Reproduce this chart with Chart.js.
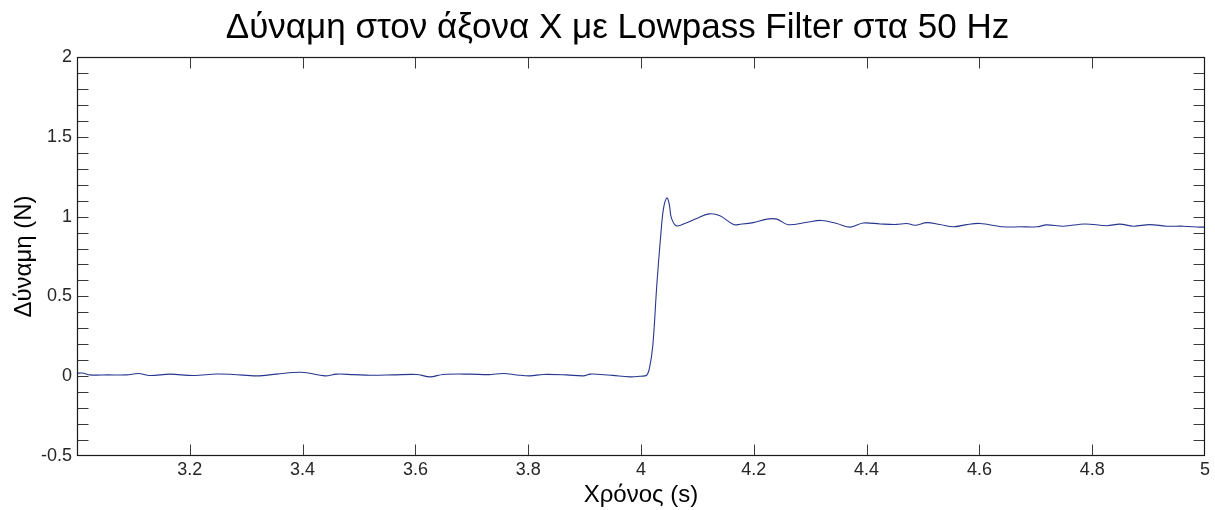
<!DOCTYPE html>
<html>
<head>
<meta charset="utf-8">
<script src="https://cdn.jsdelivr.net/npm/chart.js@4.4.0/dist/chart.umd.min.js"></script>
<style>
  html, body { margin: 0; padding: 0; background: #ffffff; }
  canvas { display: block; }
</style>
</head>
<body>
<canvas id="c" width="1215" height="510"></canvas>
<script>
// ---- data ----
const timeSeconds = [
  3.000, 3.010, 3.023, 3.055, 3.088, 3.109, 3.129, 3.165, 3.206, 3.248,
  3.277, 3.319, 3.354, 3.398, 3.440, 3.460, 3.490, 3.520, 3.560, 3.602,
  3.626, 3.649, 3.697, 3.730, 3.756, 3.780, 3.803, 3.827, 3.868, 3.898,
  3.910, 3.927, 3.950, 3.980, 4.000, 4.010, 4.015, 4.021, 4.028, 4.035,
  4.040, 4.046, 4.050, 4.054, 4.063, 4.081, 4.100, 4.121, 4.140, 4.164,
  4.176, 4.199, 4.223, 4.241, 4.261, 4.294, 4.320, 4.347, 4.371, 4.394,
  4.424, 4.453, 4.471, 4.486, 4.507, 4.530, 4.554, 4.577, 4.601, 4.642,
  4.672, 4.702, 4.719, 4.749, 4.787, 4.826, 4.849, 4.873, 4.902, 4.932,
  4.962, 4.991, 5.000
];
const forceNewton = [
  0.018, 0.020, 0.008, 0.008, 0.008, 0.017, 0.004, 0.013, 0.004, 0.014,
  0.011, 0.002, 0.013, 0.025, 0.002, 0.013, 0.010, 0.006, 0.008, 0.011,
  -0.004, 0.011, 0.013, 0.010, 0.017, 0.008, 0.002, 0.011, 0.008, 0.002,
  0.013, 0.011, 0.005, -0.004, 0.000, 0.006, 0.050, 0.194, 0.570, 0.883,
  1.053, 1.117, 1.080, 0.990, 0.942, 0.962, 0.990, 1.017, 1.005, 0.950,
  0.952, 0.962, 0.984, 0.984, 0.949, 0.965, 0.976, 0.957, 0.934, 0.960,
  0.954, 0.951, 0.957, 0.946, 0.962, 0.950, 0.936, 0.950, 0.957, 0.936,
  0.936, 0.936, 0.948, 0.940, 0.954, 0.943, 0.953, 0.940, 0.950, 0.940,
  0.940, 0.934, 0.934
];
const xTickValues = [3.2, 3.4, 3.6, 3.8, 4, 4.2, 4.4, 4.6, 4.8, 5];
const xTickLabels = ['3.2', '3.4', '3.6', '3.8', '4', '4.2', '4.4', '4.6', '4.8', '5'];
const yTickValues = [-0.5, 0, 0.5, 1, 1.5, 2];
const yTickLabels = ['-0.5', '0', '0.5', '1', '1.5', '2'];

const titleText = 'Δύναμη στον άξονα X με Lowpass Filter στα 50 Hz';
const xAxisTitle = 'Χρόνος (s)';
const yAxisTitle = 'Δύναμη (N)';

// ---- chart ----
const FONT = "'Liberation Sans', Arial, Helvetica, sans-serif";
const AXIS_COLOR = '#1a1a1a';

const points = timeSeconds.map((t, i) => ({ x: t, y: forceNewton[i] }));

const whiteBg = {
  id: 'whiteBg',
  beforeDraw(chart) {
    const ctx = chart.ctx;
    ctx.save();
    ctx.fillStyle = '#ffffff';
    ctx.fillRect(0, 0, chart.width, chart.height);
    ctx.restore();
  }
};

const shiftTitle = {
  id: 'shiftTitle',
  afterLayout(chart) {
    if (chart.titleBlock) {
      chart.titleBlock.left += 30;
    }
  }
};

const matlabFrame = {
  id: 'matlabFrame',
  afterDatasetsDraw(chart) {
    const { ctx, chartArea, scales } = chart;
    const { left, right, top, bottom } = chartArea;
    const x = scales.x, y = scales.y;
    const L = Math.round(left) + 0.5, R = Math.round(right) - 0.5;
    const T = Math.round(top) + 0.5, B = Math.round(bottom) - 0.5;
    const len = 11;
    ctx.save();
    ctx.lineWidth = 1;
    ctx.strokeStyle = '#3a3a3a';
    ctx.beginPath();
    // y ticks every 0.1 (major + minor), on both sides, inward
    for (let k = Math.round(y.min * 10) + 1; k < Math.round(y.max * 10); k++) {
      const py = Math.round(y.getPixelForValue(k / 10)) + 0.5;
      ctx.moveTo(L, py); ctx.lineTo(L + len, py);
      ctx.moveTo(R, py); ctx.lineTo(R - len, py);
    }
    // x major ticks, bottom and top, inward
    xTickValues.forEach(v => {
      if (v <= x.min || v >= x.max) return;
      const px = Math.round(x.getPixelForValue(v)) + 0.5;
      ctx.moveTo(px, B); ctx.lineTo(px, B - len);
      ctx.moveTo(px, T); ctx.lineTo(px, T + len);
    });
    ctx.stroke();
    ctx.strokeStyle = AXIS_COLOR;
    ctx.lineWidth = 1.2;
    ctx.strokeRect(L, T, R - L, B - T);
    ctx.restore();
  }
};

new Chart(document.getElementById('c'), {
  type: 'line',
  data: {
    datasets: [{
      data: points,
      borderColor: '#27368f',
      borderWidth: 1.1,
      pointRadius: 0,
      fill: false,
      tension: 0.35
    }]
  },
  options: {
    responsive: false,
    animation: false,
    devicePixelRatio: 1,
    layout: { padding: { left: 0, right: 10, top: 0, bottom: 0 } },
    plugins: {
      legend: { display: false },
      tooltip: { enabled: false },
      title: {
        display: true,
        text: titleText,
        color: '#000000',
        font: { family: FONT, size: 35, weight: 'normal' },
        padding: { top: 7, bottom: 8 }
      }
    },
    scales: {
      x: {
        type: 'linear',
        min: 3,
        max: 5,
        grid: { display: false, drawTicks: false },
        border: { display: false },
        afterBuildTicks(scale) {
          scale.ticks = xTickValues.map(v => ({ value: v }));
        },
        afterFit(scale) { scale.height = 54; },
        ticks: {
          autoSkip: false,
          maxRotation: 0,
          padding: 3,
          color: '#262626',
          font: { family: FONT, size: 18 },
          callback: (v) => {
            const i = xTickValues.findIndex(t => Math.abs(t - v) < 1e-9);
            return i >= 0 ? xTickLabels[i] : '';
          }
        },
        title: {
          display: true,
          text: xAxisTitle,
          color: '#000000',
          font: { family: FONT, size: 24 },
          padding: { top: 0, bottom: 0 }
        }
      },
      y: {
        type: 'linear',
        min: -0.5,
        max: 2,
        grid: { display: false, drawTicks: false },
        border: { display: false },
        afterBuildTicks(scale) {
          scale.ticks = yTickValues.map(v => ({ value: v }));
        },
        afterFit(scale) { scale.width = 77; },
        ticks: {
          autoSkip: false,
          padding: 5,
          color: '#262626',
          font: { family: FONT, size: 18 },
          callback: (v) => {
            const i = yTickValues.findIndex(t => Math.abs(t - v) < 1e-9);
            return i >= 0 ? yTickLabels[i] : '';
          }
        },
        title: {
          display: true,
          text: yAxisTitle,
          color: '#000000',
          font: { family: FONT, size: 24 },
          padding: { top: 10, bottom: 0 }
        }
      }
    }
  },
  plugins: [whiteBg, shiftTitle, matlabFrame]
});
</script>
</body>
</html>
